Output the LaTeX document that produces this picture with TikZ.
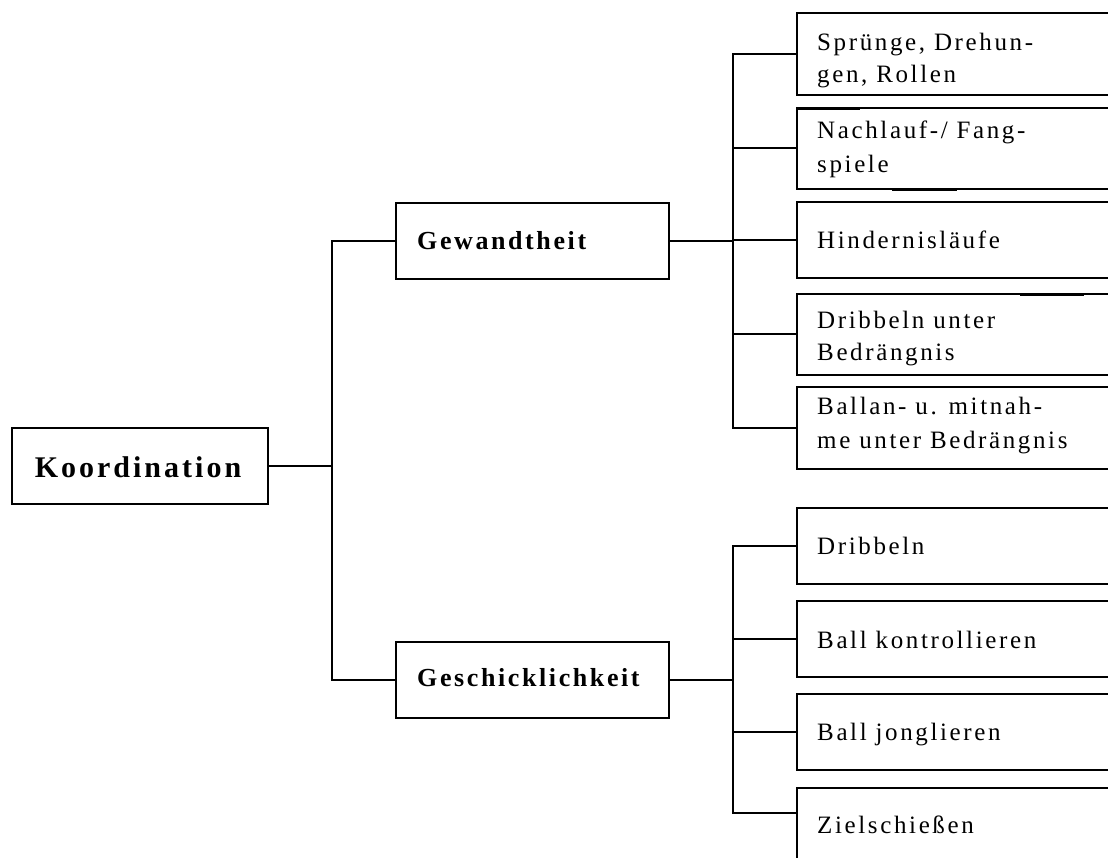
\documentclass[tikz,border=0pt]{standalone}
\usepackage{fontspec}
\setmainfont{Liberation Serif}
\newfontfamily\lblfont{Liberation Serif}[LetterSpace=10.5]
\newfontfamily\hdfont{Liberation Serif}[LetterSpace=10,BoldFont={Liberation Serif Bold}]
\begin{document}
\begin{tikzpicture}[x=1pt,y=-1pt,
  box/.style={draw, line width=2pt, rectangle, inner sep=0pt},
  rbox/.style={box, anchor=west, minimum width=340pt},
  conn/.style={line width=1.5pt},
  lbl/.style={inner sep=0pt, anchor=base west, font=\lblfont\fontsize{25}{32}\selectfont},
  hd/.style={inner sep=0pt, anchor=base west, font=\hdfont\bfseries\fontsize{26}{32}\selectfont},
  stray/.style={line width=3pt}]
\useasboundingbox (0,0) rectangle (1108,857);
\clip (0,0) rectangle (1108,857);
% main boxes
\node[box, minimum width=256pt, minimum height=76pt] (koord) at (140,466) {};
\node[inner sep=0pt, anchor=base, font=\hdfont\bfseries\fontsize{30}{36}\selectfont] (tkoord) at (138,477) {Koordination};
\node[box, minimum width=273pt, minimum height=76pt] (gew) at (532.5,241) {};
\node[hd] (tgew) at (417,249) {Gewandtheit};
\node[box, minimum width=273pt, minimum height=76pt] (gesch) at (532.5,680) {};
\node[hd] (tgesch) at (417,686) {Geschicklichkeit};
% right boxes
\node[rbox, minimum height=82pt] (b1) at (796,54) {};
\node[lbl] (t1a) at (817,50) {Sprünge, Drehun-};
\node[lbl] (t1b) at (817,82) {gen, Rollen};
\node[rbox, minimum height=81pt] (b2) at (796,148) {};
\node[lbl] (t2a) at (817,138) {Nachlauf-/ Fang-};
\node[lbl] (t2b) at (817,172) {spiele};
\node[rbox, minimum height=76pt] (b3) at (796,240) {};
\node[lbl] (t3) at (817,248) {Hindernisläufe};
\node[rbox, minimum height=81pt] (b4) at (796,334) {};
\node[lbl] (t4a) at (817,328) {Dribbeln unter};
\node[lbl] (t4b) at (817,360) {Bedrängnis};
\node[rbox, minimum height=82pt] (b5) at (796,428) {};
\node[lbl] (t5a) at (817,414) {Ballan- u. mitnah-};
\node[lbl] (t5b) at (817,448) {me unter Bedrängnis};
\node[rbox, minimum height=76pt] (b6) at (796,546) {};
\node[lbl] (t6) at (817,554) {Dribbeln};
\node[rbox, minimum height=76pt] (b7) at (796,639) {};
\node[lbl] (t7) at (817,648) {Ball kontrollieren};
\node[rbox, minimum height=76pt] (b8) at (796,732) {};
\node[lbl] (t8) at (817,740) {Ball jonglieren};
\node[box, anchor=north west, minimum width=340pt, minimum height=100pt] (b9) at (796,787) {};
\node[lbl] (t9) at (817,833) {Zielschießen};
% junctions
\coordinate (j1) at (332,466);
\coordinate (j2) at (733,241);
\coordinate (j3) at (733,680);
\draw[conn] (koord.east) -- (j1);
\draw[conn] (gew.west) -| (j1);
\draw[conn] (gesch.west) -| (j1);
\draw[conn] (gew.east) -- (j2);
\draw[conn] (gesch.east) -- (j3);
\foreach \b in {b1,b2,b3,b4,b5} \draw[conn] (\b.west) -| (j2);
\foreach \b in {b6,b7,b8} \draw[conn] (\b.west) -| (j3);
\draw[conn] ([yshift=-26pt]b9.north west) -| (j3);
% stray marks
\coordinate (s1a) at (796,108); \coordinate (s1b) at (860,108);
\coordinate (s2a) at (892,189); \coordinate (s2b) at (957,189);
\coordinate (s3a) at (1020,294); \coordinate (s3b) at (1084,294);
\draw[stray] (s1a) -- (s1b);
\draw[stray] (s2a) -- (s2b);
\draw[stray] (s3a) -- (s3b);
\end{tikzpicture}
\end{document}
